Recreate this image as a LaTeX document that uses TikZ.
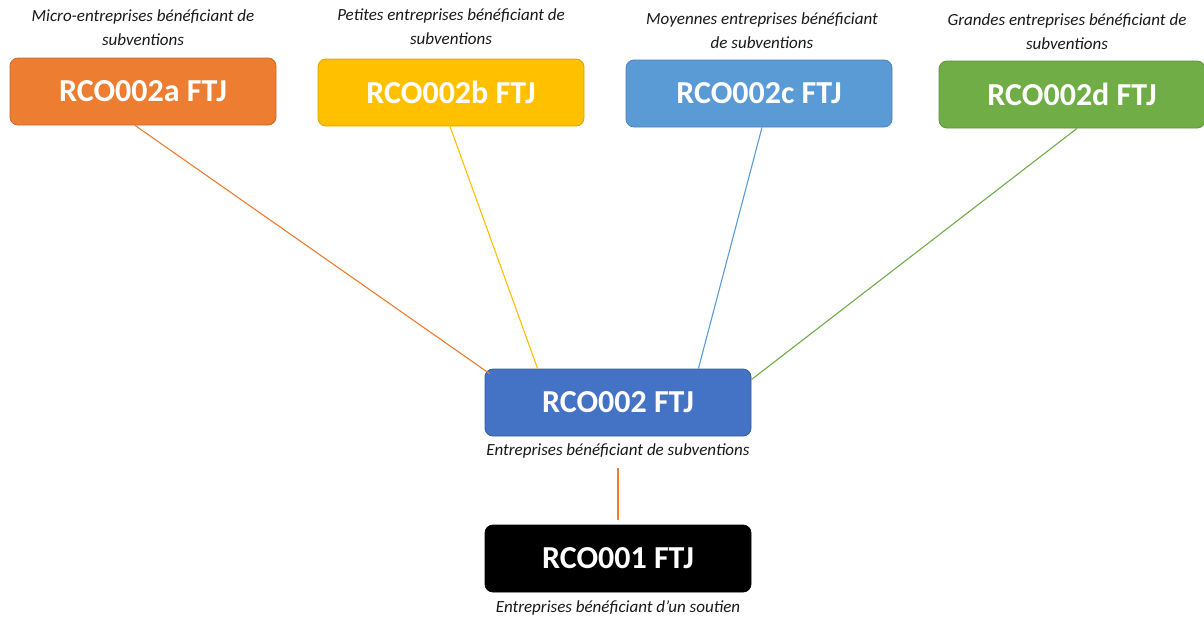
\documentclass[tikz,border=0pt]{standalone}
\usepackage{fontspec}
\setmainfont{Carlito}
\usetikzlibrary{calc}
\definecolor{cOrange}{HTML}{ED7D31}
\definecolor{cYellow}{HTML}{FFC000}
\definecolor{cLBlue}{HTML}{5B9BD5}
\definecolor{cGreen}{HTML}{70AD47}
\definecolor{cBlue}{HTML}{4472C4}
\tikzset{
  box/.style={rounded corners=8pt, minimum width=266pt, minimum height=67pt, inner sep=0pt,
    text=white, font=\fontsize{32}{34}\selectfont\bfseries, line width=0.8pt},
  lbl/.style={font=\fontsize{17}{24}\selectfont\itshape, align=center, inner sep=0pt, text=black!90},
  conn/.style={line width=1.1pt}
}
\begin{document}
\begin{tikzpicture}[x=1pt,y=-1pt]
\useasboundingbox (0,0) rectangle (1204,621);
\fill[white] (0,0) rectangle (1204,621);
\node[box, fill=cOrange, draw=cOrange!85!black] (a) at (143,91.5) {RCO002a FTJ};
\node[box, fill=cYellow, draw=cYellow!85!black] (b) at (451,92.5) {RCO002b FTJ};
\node[box, fill=cLBlue, draw=cLBlue!85!black] (c) at (759,93.5) {RCO002c FTJ};
\node[box, fill=cGreen, draw=cGreen!85!black] (d) at (1072,94.5) {RCO002d FTJ};
\node[box, fill=cBlue, draw=cBlue!80!black] (m) at (618,402.5) {RCO002 FTJ};
\node[box, fill=black, draw=black] (r) at (618,558.5) {RCO001 FTJ};

\node[lbl] (la) at (143,28) {Micro-entreprises bénéficiant de\\subventions};
\node[lbl] (lb) at (451,27) {Petites entreprises bénéficiant de\\subventions};
\node[lbl] (lc) at (762,30.5) {Moyennes entreprises bénéficiant\\de subventions};
\node[lbl] (ld) at (1067,31.5) {Grandes entreprises bénéficiant de\\subventions};
\node[lbl] (lm) at (618,451) {Entreprises bénéficiant de subventions};
\node[lbl] (lr) at (618,608) {Entreprises bénéficiant d’un soutien};

\draw[conn, cOrange] ([xshift=-8pt]a.south) -- ([xshift=5pt,yshift=-5pt]m.north west);
\draw[conn, cYellow] ([xshift=-1pt]b.south) -- ([xshift=53pt]m.north west);
\draw[conn, cLBlue] ([xshift=3pt]c.south) -- ([xshift=-53pt]m.north east);
\draw[conn, cGreen] ([xshift=5pt]d.south) -- ([yshift=-11pt]m.north east);
\draw[conn, cOrange] ([yshift=-10pt]lm.south) -- ([yshift=5pt]r.north);
\end{tikzpicture}
\end{document}
